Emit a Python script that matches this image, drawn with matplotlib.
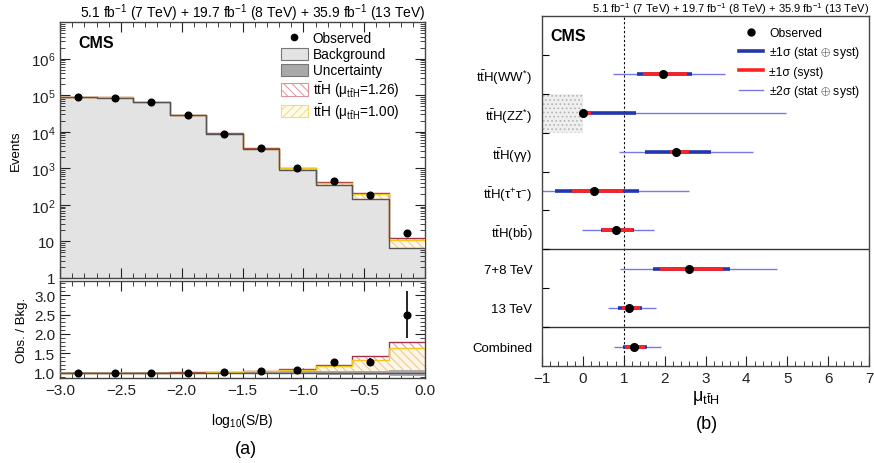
import matplotlib
matplotlib.use("Agg")
import matplotlib.pyplot as plt
import numpy as np
from matplotlib.lines import Line2D
from matplotlib.patches import Patch
from matplotlib.ticker import MultipleLocator, LogLocator, NullFormatter

plt.rcParams['font.family'] = ['Liberation Sans', 'DejaVu Sans']
plt.rcParams['mathtext.fontset'] = 'custom'
plt.rcParams['mathtext.rm'] = 'Liberation Sans'
plt.rcParams['mathtext.it'] = 'Liberation Sans'
plt.rcParams['mathtext.bf'] = 'Liberation Sans:bold'
plt.rcParams['hatch.linewidth'] = 0.7

# ---------------- data: (a) S/B-ordered event yields ----------------
bin_edges = [-3.0, -2.7, -2.4, -2.1, -1.8, -1.5, -1.2, -0.9, -0.6, -0.3, 0.0]
background = [9.0e4, 8.6e4, 6.3e4, 2.8e4, 8.7e3, 3.3e3, 9.2e2, 345, 147, 6.8]
bkg_unc_frac = [0.02, 0.02, 0.02, 0.02, 0.03, 0.03, 0.04, 0.05, 0.06, 0.08]
signal_sm = [130, 250, 350, 310, 200, 150, 80, 58, 50, 4.3]
observed = [9.0e4, 8.6e4, 6.35e4, 2.8e4, 8.8e3, 3.5e3, 1.0e3, 445, 190, 17]
observed_err = [300, 293, 252, 167, 94, 59, 32, 21, 14, 4.1]
mu_fit = 1.26
mu_sm = 1.00

# ---------------- data: (b) signal strength per channel ----------------
channels = [r"t$\bar{\rm t}$H(WW$^{*}$)", r"t$\bar{\rm t}$H(ZZ$^{*}$)",
            r"t$\bar{\rm t}$H(γγ)", r"t$\bar{\rm t}$H(τ$^{+}$τ$^{-}$)",
            r"t$\bar{\rm t}$H(b$\bar{\rm b}$)", "7+8 TeV", "13 TeV", "Combined"]
row_pos = [7.5, 6.5, 5.5, 4.5, 3.5, 2.5, 1.5, 0.5]
mu_best = [1.97, 0.00, 2.27, 0.28, 0.82, 2.59, 1.14, 1.26]
tot1_lo = [1.33, 0.00, 1.53, -0.68, 0.44, 1.71, 0.87, 0.99]
tot1_hi = [2.67, 1.30, 3.13, 1.38, 1.26, 3.61, 1.45, 1.56]
syst_lo = [1.48, 0.00, 2.13, -0.27, 0.48, 1.88, 0.95, 1.04]
syst_hi = [2.54, 0.21, 2.60, 0.97, 1.22, 3.43, 1.40, 1.52]
tot2_lo = [0.73, 0.00, 0.89, -1.40, -0.01, 0.91, 0.62, 0.76]
tot2_hi = [3.47, 4.98, 4.17, 2.60, 1.74, 4.74, 1.79, 1.90]
sm_value = 1.0

lumi_text = (r"5.1 fb$^{-1}$ (7 TeV) + 19.7 fb$^{-1}$ (8 TeV) + "
             r"35.9 fb$^{-1}$ (13 TeV)")

W, H = 874, 464
fig = plt.figure(figsize=(W / 100, H / 100), dpi=100)


def rect(x0, y0, x1, y1):
    return [x0 / W, 1 - y1 / H, (x1 - x0) / W, (y1 - y0) / H]


ax_top = fig.add_axes(rect(60, 23, 425, 279))
ax_rat = fig.add_axes(rect(60, 282, 425, 379))
ax_mu = fig.add_axes(rect(542, 17, 869, 367))

edges = np.array(bin_edges)
centers = 0.5 * (edges[:-1] + edges[1:])
bkg = np.array(background)
unc = np.array(bkg_unc_frac)
sig = np.array(signal_sm)
obs = np.array(observed)
obs_e = np.array(observed_err)


def ext(v):
    return np.append(v, v[-1])


c_bkg = '#e3e3e3'
c_unc = '#a9a9a9'
c_red_h = '#dc92a0'
c_red_l = '#a8324a'
c_yel_h = '#ecc48e'
c_yel_l = '#f2c61f'
c_yel_f = '#fdf6e6'

# upper panel: stacked yields
ymin = 1.0
ax_top.fill_between(edges, ymin, ext(bkg), step='post', color=c_bkg, lw=0, zorder=1)
ax_top.fill_between(edges, ext(bkg * (1 - unc)), ext(bkg * (1 + unc)), step='post',
                    color=c_unc, lw=0, zorder=2)
ax_top.fill_between(edges, ext(bkg + sig * mu_sm), ext(bkg + sig * mu_fit), step='post',
                    facecolor='white', edgecolor=c_red_h, hatch='\\\\\\\\', lw=0, zorder=3)
ax_top.fill_between(edges, ext(bkg), ext(bkg + sig * mu_sm), step='post',
                    facecolor=c_yel_f, edgecolor=c_yel_h, hatch='\\\\\\\\', lw=0, zorder=3)
ax_top.step(edges, ext(bkg + sig * mu_fit), where='post', color=c_red_l, lw=1.0, zorder=4)
ax_top.step(edges, ext(bkg + sig * mu_sm), where='post', color=c_yel_l, lw=1.0, zorder=4)
ax_top.step(edges, ext(bkg), where='post', color='#555555', lw=1.0, zorder=5)
ax_top.errorbar(centers, obs, yerr=obs_e, fmt='o', color='black', ms=4.8, lw=1.2,
                capsize=0, zorder=6)

ax_top.set_yscale('log')
ax_top.set_xlim(-3.0, 0.0)
ax_top.set_ylim(1, 1e7)
ax_top.set_yticks([1, 10, 1e2, 1e3, 1e4, 1e5, 1e6])
ax_top.set_yticklabels(['1', '10', r'10$^{2}$', r'10$^{3}$', r'10$^{4}$',
                        r'10$^{5}$', r'10$^{6}$'])
ax_top.yaxis.set_minor_locator(LogLocator(base=10, subs=np.arange(2, 10), numticks=20))
ax_top.yaxis.set_minor_formatter(NullFormatter())
ax_top.set_ylabel('Events', fontsize=9.5, labelpad=6)

# ratio panel
rat_unc_lo = 1 - unc
rat_unc_hi = 1 + unc
ax_rat.fill_between(edges, 1.0, ext(1 + sig * mu_sm / bkg), step='post',
                    facecolor=c_yel_f, edgecolor=c_yel_h, hatch='\\\\\\\\', lw=0, zorder=2)
ax_rat.fill_between(edges, ext(1 + sig * mu_sm / bkg), ext(1 + sig * mu_fit / bkg), step='post',
                    facecolor='white', edgecolor=c_red_h, hatch='\\\\\\\\', lw=0, zorder=2)
ax_rat.fill_between(edges, ext(rat_unc_lo), ext(rat_unc_hi), step='post',
                    color=c_unc, lw=0, zorder=3)
ax_rat.step(edges, ext(1 + sig * mu_fit / bkg), where='post', color=c_red_l, lw=1.0, zorder=4)
ax_rat.step(edges, ext(1 + sig * mu_sm / bkg), where='post', color=c_yel_l, lw=1.0, zorder=4)
ax_rat.axhline(1.0, color='#555555', lw=1.0, zorder=4)
ax_rat.errorbar(centers, obs / bkg, yerr=obs_e / bkg, fmt='o', color='black', ms=4.8,
                lw=1.2, capsize=0, zorder=6)
ax_rat.set_xlim(-3.0, 0.0)
ax_rat.set_ylim(0.87, 3.36)
ax_rat.set_yticks([1.0, 1.5, 2.0, 2.5, 3.0])
ax_rat.yaxis.set_minor_locator(MultipleLocator(0.1))
ax_rat.xaxis.set_minor_locator(MultipleLocator(0.1))
ax_rat.set_xticks([-3.0, -2.5, -2.0, -1.5, -1.0, -0.5, 0.0])
ax_rat.set_xticklabels(['\u22123.0', '\u22122.5', '\u22122.0', '\u22121.5', '\u22121.0',
                        '\u22120.5', '0.0'])
ax_rat.set_ylabel('Obs. / Bkg.', fontsize=9.5, labelpad=4)
ax_rat.set_xlabel(r'log$_{10}$(S/B)', fontsize=10, labelpad=10)

ax_top.xaxis.set_major_locator(MultipleLocator(0.5))
ax_top.xaxis.set_minor_locator(MultipleLocator(0.1))
ax_top.tick_params(axis='x', labelbottom=False)

for a in (ax_top, ax_rat):
    a.tick_params(which='both', direction='in', top=True, right=True, labelsize=11,
                  colors='#222222')
    a.tick_params(which='major', length=7, width=0.8)
    a.tick_params(which='minor', length=3.5, width=0.6)
    for s in a.spines.values():
        s.set_color('#444444')
        s.set_linewidth(1.0)

ax_top.text(0.05, 0.92, 'CMS', transform=ax_top.transAxes, fontsize=11.5,
            fontweight='bold', va='center', ha='left')

leg_handles = [
    Line2D([], [], marker='o', color='black', ls='none', ms=4.5),
    Patch(facecolor=c_bkg, edgecolor='#777777', lw=0.8),
    Patch(facecolor=c_unc, edgecolor='#777777', lw=0.8),
    Patch(facecolor='white', edgecolor=c_red_h, hatch='\\\\\\\\', lw=0.8),
    Patch(facecolor='#fffbea', edgecolor='#f6dc70', hatch='////', lw=0.8),
]
leg_labels = ['Observed', 'Background', 'Uncertainty',
              r't$\bar{\rm t}$H (μ$_{\rm t\bar{t}H}$=1.26)',
              r't$\bar{\rm t}$H (μ$_{\rm t\bar{t}H}$=1.00)']
ax_top.legend(leg_handles, leg_labels, loc='upper left', bbox_to_anchor=(0.59, 0.985),
              frameon=False, fontsize=9.8, handlelength=2.0, handleheight=1.0,
              handletextpad=0.35, labelspacing=0.15, borderaxespad=0)

# (b) signal strength summary
c_blue = '#2336b0'
c_red = '#ff2222'
c_thin = '#7878e8'
ax_mu.axvline(sm_value, color='black', ls=(0, (2, 2)), lw=0.8, zorder=1)
ax_mu.fill_between([-1.0, mu_best[1]], 6.0, 7.0, facecolor='#efefef', edgecolor='#b4b4b4',
                   hatch='....', lw=0, zorder=0)
for y, m, a1, b1, s1, s2, a2, b2 in zip(row_pos, mu_best, tot1_lo, tot1_hi, syst_lo,
                                        syst_hi, tot2_lo, tot2_hi):
    ax_mu.plot([a2, b2], [y, y], color=c_thin, lw=1.0, zorder=2, solid_capstyle='butt')
    ax_mu.plot([a1, b1], [y, y], color=c_blue, lw=2.6, zorder=3, solid_capstyle='butt')
    ax_mu.plot([s1, s2], [y, y], color=c_red, lw=2.6, zorder=4, solid_capstyle='butt')
    ax_mu.plot([m], [y], 'o', color='black', ms=5.5, zorder=5)
for ysep in (1.0, 3.0):
    ax_mu.axhline(ysep, color='#333333', lw=1.0, zorder=1)

ax_mu.set_xlim(-1, 7)
ax_mu.set_ylim(0, 9)
ax_mu.set_yticks(row_pos)
ax_mu.set_yticklabels(channels, fontsize=9.5)
ax_mu.set_yticks([1, 2, 3, 4, 5, 6, 7, 8], minor=True)
ax_mu.tick_params(axis='y', which='major', length=0, pad=7)
ax_mu.tick_params(axis='y', which='minor', length=5, width=0.8, direction='in')
ax_mu.xaxis.set_minor_locator(MultipleLocator(0.2))
ax_mu.set_xticks(range(-1, 8))
ax_mu.set_xticklabels(['\u22121', '0', '1', '2', '3', '4', '5', '6', '7'])
ax_mu.tick_params(axis='x', which='both', direction='in', labelsize=11, colors='#222222')
ax_mu.tick_params(axis='x', which='major', length=7, width=0.8)
ax_mu.tick_params(axis='x', which='minor', length=3.5, width=0.6)
for s in ax_mu.spines.values():
    s.set_color('#444444')
    s.set_linewidth(1.0)
ax_mu.set_xlabel(r'μ$_{\rm t\bar{t}H}$', fontsize=13, labelpad=2)

ax_mu.text(0.025, 0.943, 'CMS', transform=ax_mu.transAxes, fontsize=11.5,
           fontweight='bold', va='center', ha='left')

mu_handles = [
    Line2D([], [], marker='o', color='black', ls='none', ms=5),
    Line2D([], [], color=c_blue, lw=2.6),
    Line2D([], [], color=c_red, lw=2.6),
    Line2D([], [], color=c_thin, lw=1.0),
]
mu_labels = ['Observed', r'±1σ (stat $\oplus$ syst)', r'±1σ (syst)',
             r'±2σ (stat $\oplus$ syst)']
ax_mu.legend(mu_handles, mu_labels, loc='upper right', bbox_to_anchor=(0.995, 0.99),
             frameon=False, fontsize=8.7, handlelength=2.0, handletextpad=0.5,
             labelspacing=0.45, borderaxespad=0.2)

fig.text(425 / W, 1 - 13 / H, lumi_text, ha='right', va='center', fontsize=10)
fig.text(869 / W, 1 - 9 / H, lumi_text, ha='right', va='center', fontsize=8)
fig.text(246 / W, 1 - 450 / H, '(a)', ha='center', va='center', fontsize=13)
fig.text(707 / W, 1 - 425 / H, '(b)', ha='center', va='center', fontsize=13)

fig.savefig('out.png', dpi=100)
